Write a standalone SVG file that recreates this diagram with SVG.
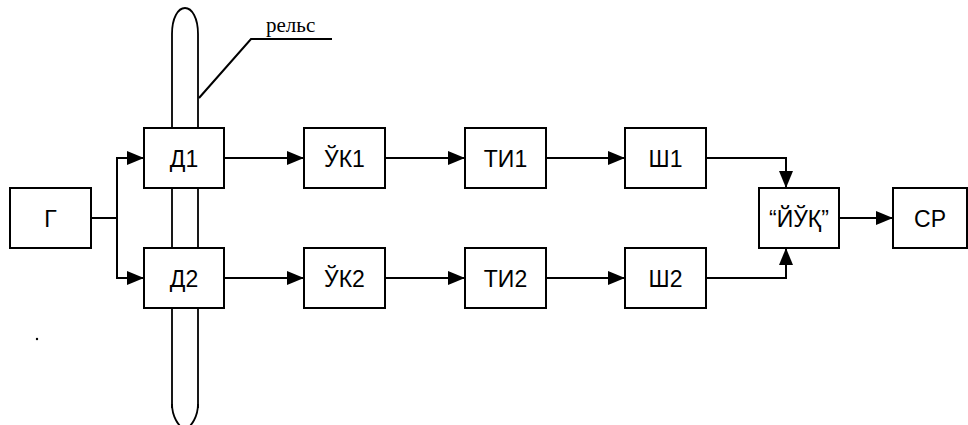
<svg xmlns="http://www.w3.org/2000/svg" width="968" height="425" viewBox="0 0 968 425">
  <style>
    .box { fill: #ffffff; stroke: #000000; stroke-width: 2; }
    .lbl { font-family: "Liberation Sans", Arial, sans-serif; font-size: 23px; fill: #000000; text-anchor: middle; }
    .wire { fill: none; stroke: #000000; stroke-width: 2; }
    .rail { fill: none; stroke: #000000; stroke-width: 1.8; }
    .note { font-family: "Liberation Serif", "Times New Roman", serif; font-size: 21px; fill: #000000; }
  </style>
  <defs>
    <marker id="arrow" markerWidth="17" markerHeight="14" refX="17" refY="7" orient="auto" markerUnits="userSpaceOnUse">
      <path d="M0,0 L17,7 L0,14 Z" fill="#000000"/>
    </marker>
  </defs>

  <rect width="968" height="425" fill="#ffffff"/>

  <!-- rail: elongated loop passing behind the two sensors -->
  <g id="rail">
    <path class="rail" d="M172,408 L172,34 C172,18 178,8 185,8 C192,8 198,18 198,34 L198,408"/>
    <path class="rail" d="M172,404 C172,416 178,426 185,430 C192,426 198,416 198,404"/>
    <path class="wire" d="M199,98 L251,39 L332,39"/>
    <text class="note" x="266" y="32">рельс</text>
  </g>

  <g id="connectors">
    <path class="wire" d="M91,218 L117,218"/>
    <path class="wire" d="M117,218 L117,158 L144,158" marker-end="url(#arrow)"/>
    <path class="wire" d="M117,218 L117,278 L144,278" marker-end="url(#arrow)"/>
    <path class="wire" d="M224,158 L304,158" marker-end="url(#arrow)"/>
    <path class="wire" d="M385,158 L465,158" marker-end="url(#arrow)"/>
    <path class="wire" d="M546,158 L625,158" marker-end="url(#arrow)"/>
    <path class="wire" d="M224,278 L304,278" marker-end="url(#arrow)"/>
    <path class="wire" d="M385,278 L465,278" marker-end="url(#arrow)"/>
    <path class="wire" d="M546,278 L625,278" marker-end="url(#arrow)"/>
    <path class="wire" d="M706,158 L786,158 L786,188" marker-end="url(#arrow)"/>
    <path class="wire" d="M706,278 L786,278 L786,248" marker-end="url(#arrow)"/>
    <path class="wire" d="M839,218 L893,218" marker-end="url(#arrow)"/>
  </g>

  <g id="G">
    <rect class="box" x="10" y="188" width="81" height="60"/>
    <text class="lbl" x="50.5" y="226.5">Г</text>
  </g>
  <g id="D1">
    <rect class="box" x="144" y="128" width="80" height="60"/>
    <text class="lbl" x="184" y="166.5">Д1</text>
  </g>
  <g id="D2">
    <rect class="box" x="144" y="248" width="80" height="60"/>
    <text class="lbl" x="184" y="286.5">Д2</text>
  </g>
  <g id="UK1">
    <rect class="box" x="304" y="128" width="81" height="60"/>
    <text class="lbl" x="344.5" y="166.5">ЎК1</text>
  </g>
  <g id="UK2">
    <rect class="box" x="304" y="248" width="81" height="60"/>
    <text class="lbl" x="344.5" y="286.5">ЎК2</text>
  </g>
  <g id="TI1">
    <rect class="box" x="465" y="128" width="81" height="60"/>
    <text class="lbl" x="505.5" y="166.5">ТИ1</text>
  </g>
  <g id="TI2">
    <rect class="box" x="465" y="248" width="81" height="60"/>
    <text class="lbl" x="505.5" y="286.5">ТИ2</text>
  </g>
  <g id="SH1">
    <rect class="box" x="625" y="128" width="81" height="60"/>
    <text class="lbl" x="665.5" y="166.5">Ш1</text>
  </g>
  <g id="SH2">
    <rect class="box" x="625" y="248" width="81" height="60"/>
    <text class="lbl" x="665.5" y="286.5">Ш2</text>
  </g>
  <g id="AND">
    <rect class="box" x="759" y="188" width="80" height="60"/>
    <text class="lbl" x="799" y="226.5">“ЙЎҚ”</text>
  </g>
  <g id="CP">
    <rect class="box" x="893" y="188" width="74" height="60"/>
    <text class="lbl" x="930" y="226.5">СР</text>
  </g>

  <circle cx="37" cy="339" r="1.2" fill="#000000"/>
</svg>
